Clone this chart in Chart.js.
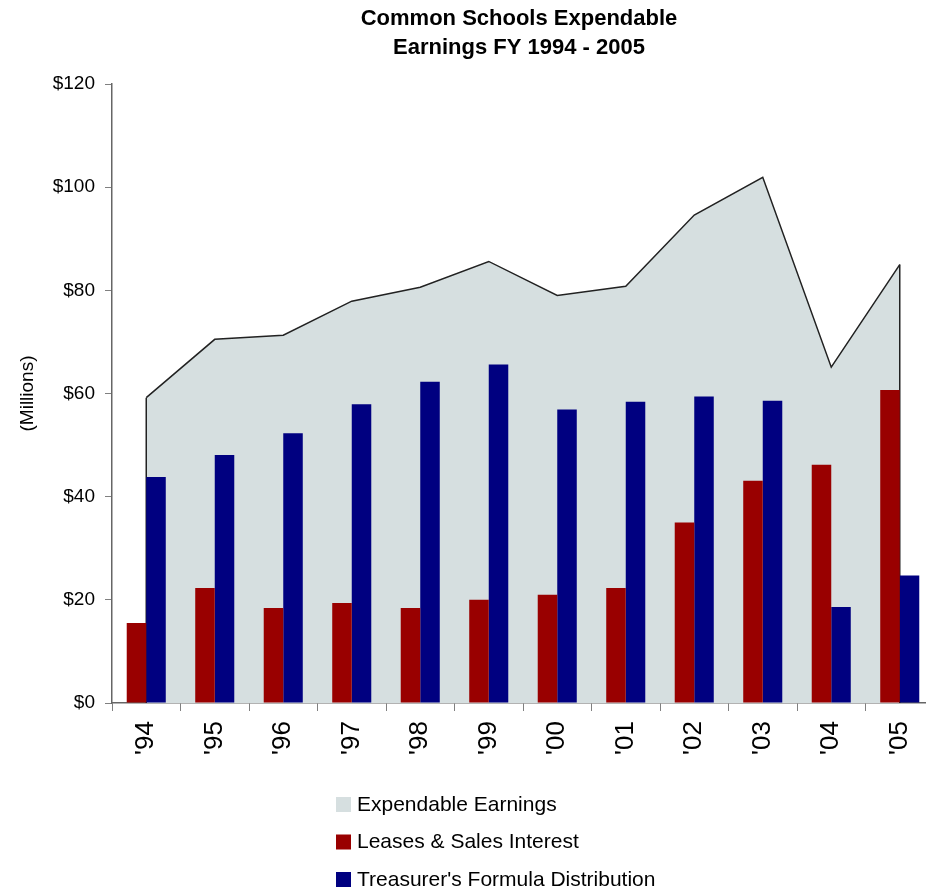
<!DOCTYPE html>
<html>
<head>
<meta charset="utf-8">
<script src="https://cdn.jsdelivr.net/npm/chart.js@4"></script>
<style>
  html, body { margin: 0; padding: 0; background: #fff; overflow: hidden; }
  #wrap { position: absolute; left: 0; top: 0; width: 946px; height: 888px; }
</style>
</head>
<body>
<div id="wrap"><canvas id="chart"></canvas></div>
<script>
// Данные графика
const years = ["'94", "'95", "'96", "'97", "'98", "'99", "'00", "'01", "'02", "'03", "'04", "'05"];
const expendableEarnings = [59.2, 70.5, 71.3, 77.9, 80.6, 85.6, 79.0, 80.8, 94.6, 101.9, 65.1, 85.0];
const leasesSalesInterest = [15.5, 22.3, 18.4, 19.4, 18.4, 20.0, 21.0, 22.3, 35.0, 43.1, 46.2, 60.7];
const treasurerDistribution = [43.8, 48.1, 52.3, 57.9, 62.3, 65.6, 56.9, 58.4, 59.4, 58.6, 18.6, 24.7];
const titleLines = ['Common Schools Expendable', 'Earnings FY 1994 - 2005'];

const FONT = '"Liberation Sans", Arial, sans-serif';

// Заголовок по центру области графика
const titlePlugin = {
    id: 'centerTitle',
    afterDraw(chart) {
        const ctx = chart.ctx;
        const cx = (chart.chartArea.left + chart.chartArea.right) / 2 - 4;
        ctx.save();
        ctx.fillStyle = '#000';
        ctx.font = 'bold 22px ' + FONT;
        ctx.textAlign = 'center';
        ctx.textBaseline = 'middle';
        ctx.fillText(titleLines[0], cx, 19);
        ctx.fillText(titleLines[1], cx, 48);
        ctx.restore();
    }
};

// Вертикальные края у области
const areaEdges = {
    id: 'areaEdges',
    afterDatasetDraw(chart, args) {
        if (args.index !== 0) return;
        const pts = args.meta.data;
        const base = chart.scales.y.getPixelForValue(0);
        const ctx = chart.ctx;
        ctx.save();
        ctx.strokeStyle = '#222';
        ctx.lineWidth = 1.5;
        [pts[0], pts[pts.length - 1]].forEach(p => {
            ctx.beginPath();
            ctx.moveTo(p.x, p.y);
            ctx.lineTo(p.x, base);
            ctx.stroke();
        });
        ctx.restore();
    }
};

// Вертикальная легенда снизу
const legendPlugin = {
    id: 'vertLegend',
    afterDraw(chart) {
        const ctx = chart.ctx;
        ctx.save();
        ctx.font = '21px ' + FONT;
        ctx.textBaseline = 'middle';
        chart.data.datasets.forEach((ds, i) => {
            const y = 804 + i * 37.5;
            ctx.fillStyle = ds.backgroundColor;
            ctx.fillRect(336, y - 7, 15, 15);
            ctx.fillStyle = '#000';
            ctx.fillText(ds.label, 357, y + 1);
        });
        ctx.restore();
    }
};

new Chart(document.getElementById('chart'), {
    type: 'bar',
    data: {
        labels: years,
        datasets: [
            {
                type: 'line',
                label: 'Expendable Earnings',
                data: expendableEarnings,
                backgroundColor: '#D6DFE0',
                borderColor: '#222',
                borderWidth: 1.5,
                pointRadius: 0,
                fill: 'origin',
                tension: 0,
                order: 3
            },
            {
                label: 'Leases & Sales Interest',
                data: leasesSalesInterest,
                backgroundColor: '#990000',
                order: 1
            },
            {
                label: "Treasurer's Formula Distribution",
                data: treasurerDistribution,
                backgroundColor: '#000080',
                order: 2
            }
        ]
    },
    options: {
        responsive: true,
        maintainAspectRatio: false,
        animation: false,
        categoryPercentage: 0.57,
        barPercentage: 1.0,
        layout: { padding: { top: 84, left: 0, right: 12, bottom: 115 } },
        plugins: {
            legend: { display: false },
            title: { display: false },
            tooltip: { enabled: false }
        },
        scales: {
            x: {
                afterFit(scale) { scale.height = 70; },
                grid: {
                    drawOnChartArea: false,
                    color: '#808080',
                    tickLength: 8
                },
                border: { color: '#666', width: 1.5 },
                ticks: {
                    minRotation: 90,
                    maxRotation: 90,
                    padding: 10,
                    color: '#000',
                    font: { family: FONT, size: 26 }
                }
            },
            y: {
                min: 0,
                max: 120,
                afterFit(scale) { scale.width = 112; },
                grid: {
                    drawOnChartArea: false,
                    color: '#808080',
                    tickLength: 7
                },
                border: { color: '#666', width: 1.5 },
                ticks: {
                    stepSize: 20,
                    padding: 10,
                    color: '#000',
                    font: { family: FONT, size: 19 },
                    callback: v => '$' + v
                },
                title: {
                    display: true,
                    text: '(Millions)',
                    color: '#000',
                    font: { family: FONT, size: 19 },
                    padding: { top: 16, bottom: 0 }
                }
            }
        }
    },
    plugins: [titlePlugin, areaEdges, legendPlugin]
});
</script>
</body>
</html>
